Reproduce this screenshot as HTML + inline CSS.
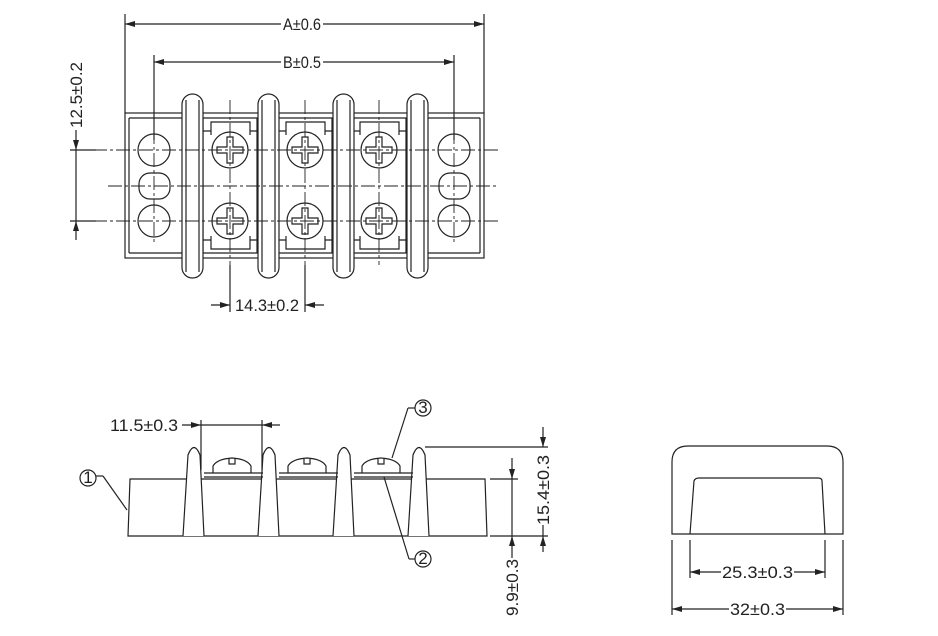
<!DOCTYPE html>
<html><head><meta charset="utf-8"><style>
html,body{margin:0;padding:0;background:#fff;}
svg{display:block;}
text{font-family:"Liberation Sans",sans-serif;font-size:17px;fill:#222;}
</style></head><body>
<svg width="938" height="636" viewBox="0 0 938 636" xmlns="http://www.w3.org/2000/svg">
<defs>
<marker id="a" viewBox="0 0 10 6" refX="10" refY="3" markerWidth="10" markerHeight="6" orient="auto-start-reverse" markerUnits="userSpaceOnUse"><path d="M0,0 L10,3 L0,6 z" fill="#222"/></marker>
</defs>
<g stroke="#222" stroke-width="1.2" fill="none">
<line x1="125" y1="14" x2="125" y2="113"/>
<line x1="484" y1="14" x2="484" y2="113"/>
<line x1="154" y1="55" x2="154" y2="140"/>
<line x1="454" y1="55" x2="454" y2="140"/>
<line x1="125" y1="24" x2="281" y2="24" marker-start="url(#a)"/>
<line x1="323" y1="24" x2="484" y2="24" marker-end="url(#a)"/>
<line x1="154" y1="62" x2="281" y2="62" marker-start="url(#a)"/>
<line x1="323" y1="62" x2="454" y2="62" marker-end="url(#a)"/>
<line x1="76" y1="130" x2="76" y2="150" marker-end="url(#a)"/>
<line x1="76" y1="150" x2="76" y2="221"/>
<line x1="76" y1="240" x2="76" y2="221" marker-end="url(#a)"/>
<line x1="70" y1="150" x2="96" y2="150"/>
<line x1="70" y1="221" x2="96" y2="221"/>
<rect x="125" y="113" width="359" height="145"/>
<line x1="129" y1="118" x2="182" y2="118"/><line x1="129" y1="253" x2="182" y2="253"/>
<line x1="129" y1="118" x2="129" y2="253"/>
<line x1="427" y1="118" x2="480" y2="118"/><line x1="427" y1="253" x2="480" y2="253"/>
<line x1="480" y1="118" x2="480" y2="253"/>
<g id="seg">
<line x1="203" y1="118" x2="203" y2="253"/><line x1="257" y1="118" x2="257" y2="253"/>
<path d="M202,118 H258 M202,131 H211 V122 H250 V131 H258 M211,131 V135 M250,131 V135"/>
<path d="M202,253 H258 M202,240 H211 V249 H250 V240 H258 M211,240 V236 M250,240 V236"/>
<circle cx="230" cy="150" r="18"/><circle cx="230" cy="221" r="18"/>
<path d="M227,137 h6 v10 h10 v6 h-10 v10 h-6 v-10 h-10 v-6 h10 z"/>
<path d="M227,208 h6 v10 h10 v6 h-10 v10 h-6 v-10 h-10 v-6 h10 z"/>
<line x1="230" y1="100" x2="230" y2="265" stroke-dasharray="14,3,3,3" stroke-width="0.9"/>
</g>
<use href="#seg" x="75"/>
<use href="#seg" x="149"/>
<rect x="182" y="94" width="21" height="184" rx="10.5" fill="#fff"/>
<rect x="258" y="94" width="21" height="184" rx="10.5" fill="#fff"/>
<rect x="333" y="94" width="21" height="184" rx="10.5" fill="#fff"/>
<rect x="407" y="94" width="21" height="184" rx="10.5" fill="#fff"/>
<line x1="186" y1="100" x2="186" y2="272"/><line x1="199" y1="100" x2="199" y2="272"/>
<line x1="262" y1="100" x2="262" y2="272"/><line x1="275" y1="100" x2="275" y2="272"/>
<line x1="337" y1="100" x2="337" y2="272"/><line x1="350" y1="100" x2="350" y2="272"/>
<line x1="411" y1="100" x2="411" y2="272"/><line x1="424" y1="100" x2="424" y2="272"/>
<circle cx="154" cy="150" r="16"/><circle cx="154" cy="221" r="16"/>
<rect x="139" y="173" width="31" height="26" rx="11"/>
<circle cx="454" cy="150" r="16"/><circle cx="454" cy="221" r="16"/>
<rect x="439" y="173" width="31" height="26" rx="11"/>
<g stroke-dasharray="14,3,3,3" stroke-width="0.9">
<line x1="70" y1="150" x2="498" y2="150"/>
<line x1="108" y1="186" x2="498" y2="186"/>
<line x1="70" y1="221" x2="498" y2="221"/>
<line x1="154" y1="130" x2="154" y2="245"/>
<line x1="454" y1="130" x2="454" y2="245"/>
</g>
<line x1="230" y1="265" x2="230" y2="312"/><line x1="305" y1="265" x2="305" y2="312"/>
<line x1="211" y1="305" x2="230" y2="305" marker-end="url(#a)"/>
<line x1="324" y1="305" x2="305" y2="305" marker-end="url(#a)"/>
<path d="M130,479 H485 L487,536 H128 Z"/>
<path d="M183,536 L188,455 Q194,440 200,455 L204,536" fill="#fff"/>
<path d="M258,536 L263,455 Q269,440 275,455 L279,536" fill="#fff"/>
<path d="M333,536 L338,455 Q344,440 350,455 L354,536" fill="#fff"/>
<path d="M408,536 L413,455 Q419,440 425,455 L429,536" fill="#fff"/>
<path d="M204,473 H263 M204,477 H263 M279,473 H338 M279,477 H338 M354,473 H413 M354,477 H413"/>
<path d="M213,473 V466 Q217,459 232,458 Q247,459 251,466 V473 M229,458 v6 h6 v-6"/>
<path d="M288,473 V466 Q292,459 307,458 Q322,459 326,466 V473 M304,458 v6 h6 v-6"/>
<path d="M362,473 V466 Q366,459 381,458 Q396,459 400,466 V473 M378,458 v6 h6 v-6"/>
<line x1="201" y1="420" x2="201" y2="470"/><line x1="262" y1="420" x2="262" y2="470"/>
<line x1="182" y1="425" x2="201" y2="425" marker-end="url(#a)"/>
<line x1="201" y1="425" x2="262" y2="425"/>
<line x1="280" y1="425" x2="262" y2="425" marker-end="url(#a)"/>
<circle cx="88" cy="478" r="8"/>
<line x1="96" y1="476" x2="103" y2="476"/><line x1="103" y1="476" x2="127" y2="510"/>
<circle cx="423" cy="408" r="8"/>
<line x1="415" y1="408" x2="408" y2="408"/><line x1="408" y1="408" x2="392" y2="458"/>
<circle cx="423" cy="559" r="8"/>
<line x1="415" y1="559" x2="409" y2="559"/><line x1="409" y1="559" x2="384" y2="477"/>
<line x1="425" y1="447" x2="548" y2="447"/>
<line x1="490" y1="479" x2="518" y2="479"/>
<line x1="490" y1="536" x2="548" y2="536"/>
<line x1="543" y1="427" x2="543" y2="447" marker-end="url(#a)"/>
<line x1="543" y1="552" x2="543" y2="536" marker-end="url(#a)"/>
<line x1="543" y1="525" x2="543" y2="536"/>
<line x1="512" y1="458" x2="512" y2="479" marker-end="url(#a)"/>
<line x1="512" y1="479" x2="512" y2="536"/>
<line x1="512" y1="558" x2="512" y2="536" marker-end="url(#a)"/>
<path d="M672,534 V462 Q672,446 688,446 H827 Q843,446 843,462 V534 Z"/>
<path d="M690,534 L694,481 Q695,478 699,478 H818 Q822,478 822,481 L825,534"/>
<line x1="690" y1="540" x2="690" y2="578"/><line x1="825" y1="540" x2="825" y2="578"/>
<line x1="672" y1="540" x2="672" y2="615"/><line x1="843" y1="540" x2="843" y2="615"/>
<line x1="721" y1="572" x2="690" y2="572" marker-end="url(#a)"/>
<line x1="794" y1="572" x2="825" y2="572" marker-end="url(#a)"/>
<line x1="729" y1="609" x2="672" y2="609" marker-end="url(#a)"/>
<line x1="786" y1="609" x2="843" y2="609" marker-end="url(#a)"/>
</g>
<text x="283" y="30" textLength="38" lengthAdjust="spacingAndGlyphs">A±0.6</text>
<text x="283" y="68" textLength="38" lengthAdjust="spacingAndGlyphs">B±0.5</text>
<text transform="translate(82,128) rotate(-90)" textLength="66" lengthAdjust="spacingAndGlyphs">12.5±0.2</text>
<text x="235" y="311" textLength="64" lengthAdjust="spacingAndGlyphs">14.3±0.2</text>
<text x="110" y="431" textLength="68" lengthAdjust="spacingAndGlyphs">11.5±0.3</text>
<text x="423" y="413" text-anchor="middle" font-size="13">3</text>
<text x="423" y="564" text-anchor="middle" font-size="13">2</text>
<text x="88" y="483" text-anchor="middle" font-size="13">1</text>
<text transform="translate(549,525) rotate(-90)" textLength="70" lengthAdjust="spacingAndGlyphs">15.4±0.3</text>
<text transform="translate(518,616) rotate(-90)" textLength="57" lengthAdjust="spacingAndGlyphs">9.9±0.3</text>
<text x="722" y="578" textLength="71" lengthAdjust="spacingAndGlyphs">25.3±0.3</text>
<text x="730" y="615" textLength="55" lengthAdjust="spacingAndGlyphs">32±0.3</text>
</svg>
</body></html>
